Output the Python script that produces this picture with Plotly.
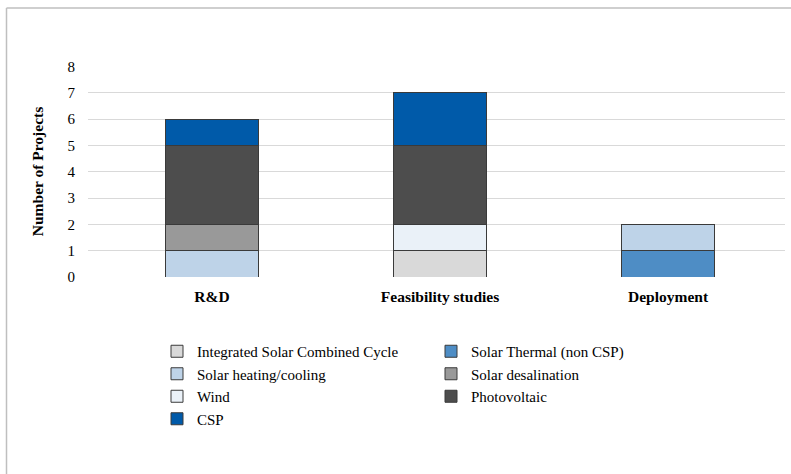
import plotly.graph_objects as go

categories = ["R&D", "Feasibility studies", "Deployment"]
series_names = ["Integrated Solar Combined Cycle", "Solar Thermal (non CSP)",
                "Solar heating/cooling", "Solar desalination", "Wind",
                "Photovoltaic", "CSP"]
iscc = [0, 1, 0]
solar_thermal = [0, 0, 1]
solar_heating = [1, 0, 1]
solar_desal = [1, 0, 0]
wind = [0, 1, 0]
photovoltaic = [3, 3, 0]
csp = [1, 2, 0]
values = [iscc, solar_thermal, solar_heating, solar_desal, wind, photovoltaic, csp]
colors = ["#d9d9d9", "#4e8dc5", "#bed3e8", "#999999", "#eaf1f8", "#4d4d4d", "#005aa9"]
y_ticks = [0, 1, 2, 3, 4, 5, 6, 7, 8]

W, H = 791, 474
L, R, T, B = 88, 785, 66, 277

fig = go.Figure()
for name, vals, col in zip(series_names, values, colors):
    fig.add_trace(go.Bar(
        x=categories, y=vals, name=name,
        marker=dict(color=col, line=dict(color="#3a3a3a", width=1)),
        width=0.41,
    ))

font_family = "Liberation Serif, Times New Roman, serif"
fig.update_layout(
    barmode="stack",
    width=W, height=H,
    margin=dict(l=L, r=W - R, t=T, b=H - B, autoexpand=False),
    paper_bgcolor="white", plot_bgcolor="white",
    font=dict(family=font_family, size=14, color="#000000"),
    xaxis=dict(
        type="category",
        range=[-0.544, 2.513],
        showgrid=False, zeroline=False, showline=False,
        ticks="", tickfont=dict(size=15.5, weight="bold"),
        ticklabelstandoff=8,
    ),
    yaxis=dict(
        range=[0, 8.02], tickvals=y_ticks,
        showgrid=True, gridcolor="#d9d9d9", gridwidth=1,
        zeroline=False, showline=False, ticks="",
        tickfont=dict(size=15), ticklabelstandoff=12,
        title=dict(text="Number of Projects", font=dict(size=15.5, weight="bold"), standoff=20),
    ),
    legend=dict(
        orientation="h",
        xref="container", yref="container",
        x=157 / W, y=1 - 335 / H, xanchor="left", yanchor="top",
        entrywidth=229, traceorder="normal", itemwidth=30,
        font=dict(size=15),
        bgcolor="rgba(0,0,0,0)",
    ),
    showlegend=True,
)

pw, ph = R - L, B - T
def px_x(p):
    return (p - L) / pw
def px_y(p):
    return (B - p) / ph

fig.add_shape(type="line", xref="paper", yref="paper",
              x0=px_x(6.5), x1=px_x(800), y0=px_y(8), y1=px_y(8),
              line=dict(color="#bfbfbf", width=1.5))
fig.add_shape(type="line", xref="paper", yref="paper",
              x0=px_x(6.5), x1=px_x(6.5), y0=px_y(8), y1=px_y(480),
              line=dict(color="#bfbfbf", width=1.5))

fig.write_html("out.html", config={"displayModeBar": False},
               post_script="document.body.style.margin='0';document.body.style.overflow='hidden';")
